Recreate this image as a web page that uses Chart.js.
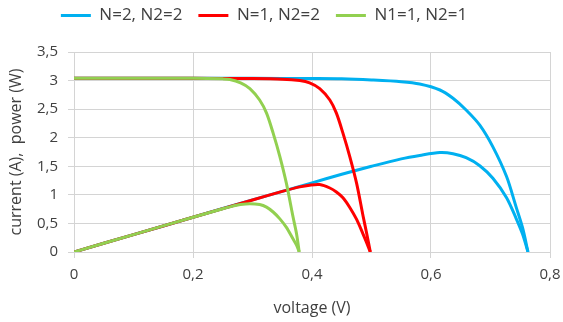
<!DOCTYPE html>
<html>
<head>
<meta charset="utf-8">
<script src="https://cdn.jsdelivr.net/npm/chart.js@4/dist/chart.umd.min.js"></script>
<style>
  html, body { margin: 0; padding: 0; background: #fff; }
  #wrap { width: 563px; height: 322px; }
</style>
</head>
<body>
<div id="wrap"><canvas id="myChart" width="563" height="322"></canvas></div>
<script>
const seriesNames = ['N=2, N2=2', 'N=1, N2=2', 'N1=1, N2=1']
const seriesColors = ['#00B0F0', '#FF0000', '#92D050']

// voltage points (V), current (A) and power (W)
const blueVoltage = [0, 0.1, 0.2, 0.3, 0.4, 0.45, 0.5, 0.55, 0.581, 0.615, 0.637, 0.659, 0.682, 0.704, 0.727, 0.743, 0.754, 0.763]
const blueCurrent = [3.04, 3.04, 3.04, 3.04, 3.035, 3.03, 3.01, 2.98, 2.94, 2.835, 2.69, 2.485, 2.22, 1.84, 1.32, 0.79, 0.42, 0]
const bluePower   = [0, 0.304, 0.608, 0.912, 1.21, 1.36, 1.5, 1.63, 1.69, 1.74, 1.72, 1.65, 1.51, 1.29, 0.95, 0.59, 0.31, 0]

const redVoltage = [0, 0.1, 0.2, 0.3, 0.35, 0.3795, 0.396, 0.413, 0.43, 0.441, 0.452, 0.4635, 0.475, 0.486, 0.492, 0.498]
const redCurrent = [3.04, 3.04, 3.04, 3.035, 3.025, 3.0, 2.96, 2.86, 2.66, 2.43, 2.08, 1.67, 1.2, 0.62, 0.32, 0]
const redPower   = [0, 0.304, 0.608, 0.91, 1.06, 1.14, 1.17, 1.18, 1.12, 1.05, 0.95, 0.78, 0.57, 0.31, 0.16, 0]

const greenVoltage = [0, 0.1, 0.2, 0.25, 0.262, 0.28, 0.2956, 0.312, 0.3236, 0.3347, 0.346, 0.357, 0.368, 0.374, 0.3785]
const greenCurrent = [3.04, 3.04, 3.04, 3.03, 3.02, 2.96, 2.86, 2.66, 2.43, 2.08, 1.67, 1.2, 0.62, 0.32, 0]
const greenPower   = [0, 0.304, 0.608, 0.757, 0.79, 0.83, 0.845, 0.83, 0.785, 0.70, 0.58, 0.43, 0.23, 0.12, 0]

const xTitle = 'voltage (V)'
const yTitle = 'current (A),  power (W)'

const toPoints = (xs, ys) => xs.map((x, i) => ({ x: x, y: ys[i] }))
const comma = v => String(Number(v.toFixed(2))).replace('.', ',')

const textColor = '#404040'
const gridColor = '#d4d4d4'
const fontFamily = "'Open Sans', 'Liberation Sans', sans-serif"

function makeSet(label, color, xs, ys, order, inLegend) {
    return {
        label: label,
        data: toPoints(xs, ys),
        borderColor: color,
        backgroundColor: color,
        borderWidth: 3,
        pointRadius: 0,
        fill: false,
        tension: 0.3,
        order: order,
        inLegend: inLegend
    }
}

const datasets = [
    makeSet(seriesNames[0], seriesColors[0], blueVoltage, blueCurrent, 6, true),
    makeSet(seriesNames[0], seriesColors[0], blueVoltage, bluePower, 5, false),
    makeSet(seriesNames[1], seriesColors[1], redVoltage, redCurrent, 4, true),
    makeSet(seriesNames[1], seriesColors[1], redVoltage, redPower, 3, false),
    makeSet(seriesNames[2], seriesColors[2], greenVoltage, greenCurrent, 2, true),
    makeSet(seriesNames[2], seriesColors[2], greenVoltage, greenPower, 1, false)
]

// legend sits high, plot area starts lower; legend a bit left of centre
const legendSpace = {
    id: 'legendSpace',
    beforeInit(chart) {
        const origFit = chart.legend.fit
        chart.legend.fit = function () {
            origFit.bind(chart.legend)()
            this.height = 61
        }
    },
    afterLayout(chart) {
        chart.legend.left -= 11
        chart.legend.right -= 11
    }
}

const config = {
    type: 'line',
    data: { datasets: datasets },
    plugins: [legendSpace],
    options: {
        responsive: false,
        animation: false,
        layout: {
            padding: { top: -9, right: 13, bottom: 0, left: 0 }
        },
        scales: {
            x: {
                type: 'linear',
                min: 0,
                max: 0.8,
                ticks: {
                    stepSize: 0.2,
                    color: textColor,
                    padding: 8,
                    font: { size: 15, family: fontFamily },
                    callback: v => comma(v)
                },
                grid: { color: gridColor, tickLength: 6 },
                border: { color: gridColor },
                title: {
                    display: true,
                    text: xTitle,
                    color: textColor,
                    font: { size: 16, family: fontFamily },
                    padding: { top: 4, bottom: 4 }
                },
                afterFit: s => { s.height = 70; s.paddingRight = 0; s.paddingLeft = 0 }
            },
            y: {
                min: 0,
                max: 3.5,
                ticks: {
                    stepSize: 0.5,
                    color: textColor,
                    padding: 10,
                    font: { size: 15, family: fontFamily },
                    callback: v => comma(v)
                },
                grid: { color: gridColor, tickLength: 6 },
                border: { color: gridColor },
                title: {
                    display: true,
                    text: yTitle,
                    color: textColor,
                    font: { size: 16, family: fontFamily },
                    padding: { top: 7, bottom: 7 }
                },
                afterFit: s => { s.width = 74 }
            }
        },
        plugins: {
            tooltip: { enabled: false },
            legend: {
                display: true,
                labels: {
                    color: textColor,
                    boxWidth: 30,
                    boxHeight: 3,
                    padding: 16,
                    font: { size: 17, family: fontFamily },
                    generateLabels: chart => {
                        const items = Chart.defaults.plugins.legend.labels.generateLabels(chart)
                        return items
                            .filter(it => chart.data.datasets[it.datasetIndex].inLegend)
                            .sort((a, b) => a.datasetIndex - b.datasetIndex)
                            .map(it => Object.assign(it, { lineWidth: 0 }))
                    }
                }
            }
        }
    }
}

const chart = new Chart(document.getElementById('myChart'), config)
</script>
</body>
</html>
